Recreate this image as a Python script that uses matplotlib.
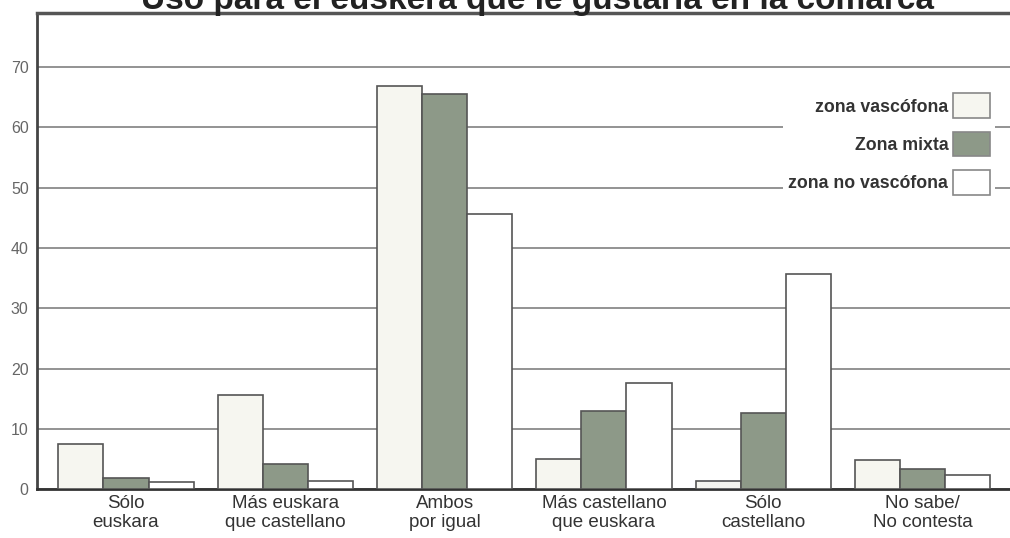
import numpy as np
import matplotlib.pyplot as plt
from matplotlib.patches import Patch

# categories and percentages per zone
categorias = ["Sólo\neuskara", "Más euskara\nque castellano", "Ambos\npor igual",
              "Más castellano\nque euskara", "Sólo\ncastellano", "No sabe/\nNo contesta"]
zona_vascofona = [7.4, 15.6, 66.8, 5.0, 1.4, 4.9]
zona_mixta = [1.8, 4.2, 65.5, 13.0, 12.6, 3.4]
zona_no_vascofona = [1.1, 1.4, 45.6, 17.6, 35.6, 2.3]
series = ["zona vascófona", "Zona mixta", "zona no vascófona"]

colores = ["#f6f6f0", "#8d9988", "#ffffff"]
borde = "#555555"

plt.rcParams['font.family'] = ['Liberation Sans', 'DejaVu Sans']

fig = plt.figure(figsize=(10.1, 5.38), dpi=100)
ax = fig.add_axes([0.0366, 0.091, 0.9634, 0.885])

x = np.arange(len(categorias))
w = 0.283
for i, vals in enumerate([zona_vascofona, zona_mixta, zona_no_vascofona]):
    ax.bar(x + (i - 1) * w, vals, width=w, color=colores[i],
           edgecolor=borde, linewidth=1.2, zorder=3)

ax.set_xlim(-0.559, 5.549)
ax.set_ylim(0, 79)
ax.set_yticks(range(0, 80, 10))
ax.set_xticks(x)
ax.set_xticklabels(categorias, fontsize=13.5, color="#333333", linespacing=1.2)
ax.tick_params(axis='both', length=0)
ax.tick_params(axis='y', labelsize=11.5, labelcolor="#666666", pad=6)
ax.tick_params(axis='x', pad=4)

ax.yaxis.grid(True, color="#8a8a8a", linewidth=1.3, zorder=0)
ax.set_axisbelow(True)

ax.spines['right'].set_visible(False)
ax.spines['left'].set_color("#444444")
ax.spines['left'].set_linewidth(2)
ax.spines['bottom'].set_color("#333333")
ax.spines['bottom'].set_linewidth(2)
ax.spines['top'].set_color("#555555")
ax.spines['top'].set_linewidth(2.5)

handles = [Patch(facecolor=c, edgecolor="#888888", linewidth=1.2) for c in colores]
leg = ax.legend(handles, series, loc='upper right', bbox_to_anchor=(0.985, 0.842),
                markerfirst=False, frameon=True, fontsize=12.8, handlelength=2.1,
                handleheight=1.75, labelspacing=0.78, handletextpad=0.25,
                borderpad=0.3, borderaxespad=0)
leg.get_frame().set_facecolor("white")
leg.get_frame().set_edgecolor("none")
leg.get_frame().set_alpha(1)
leg.set_zorder(5)
for t in leg.get_texts():
    t.set_color("#333333")
    t.set_fontweight("bold")

# title sits at the very top edge of the sheet
fig.text(0.532, 0.983, "Uso para el euskera que le gustaría en la comarca",
         ha='center', va='baseline', fontsize=24, fontweight='bold', color="#222222")

plt.savefig("out.png", dpi=100)
